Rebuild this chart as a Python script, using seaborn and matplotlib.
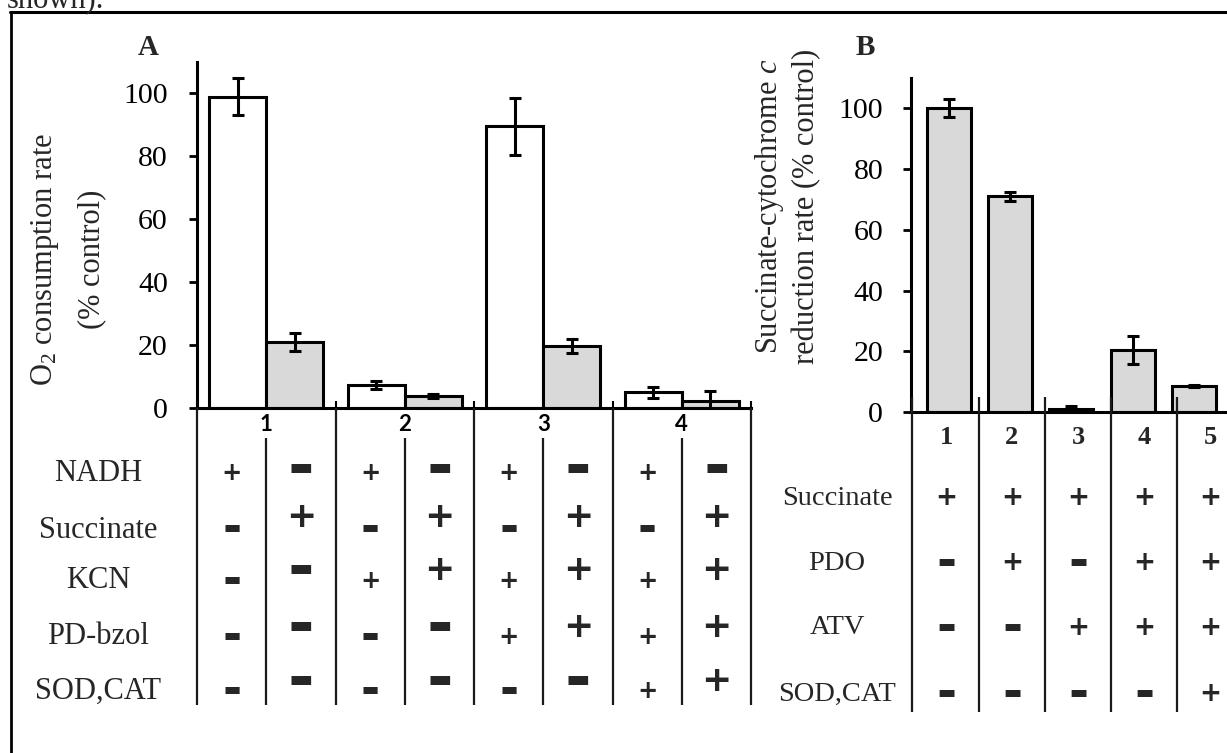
import numpy as np
import pandas as pd
import seaborn as sns
import matplotlib.pyplot as plt

# Panel A data: O2 consumption rate (% control)
groups_a = ['1', '2', '3', '4']
white_a = [99.0, 7.3, 89.5, 5.0]
white_err_a = [5.8, 1.2, 9.2, 1.7]
gray_a = [21.0, 3.8, 19.7, 2.3]
gray_err_a = [2.8, 0.5, 2.1, 3.0]

rows_a = ['NADH', 'Succinate', 'KCN', 'PD-bzol', 'SOD,CAT']
# signs per group, left (white) column and right (gray) column
signs_white_a = [['+', '-', '-', '-', '-'],
                 ['+', '-', '+', '-', '-'],
                 ['+', '-', '+', '+', '-'],
                 ['+', '-', '+', '+', '+']]
signs_gray_a = [['-', '+', '-', '-', '-'],
                ['-', '+', '+', '-', '-'],
                ['-', '+', '+', '+', '-'],
                ['-', '+', '+', '+', '+']]

# Panel B data: succinate-cytochrome c reduction rate (% control)
cats_b = ['1', '2', '3', '4', '5']
vals_b = [100.0, 71.0, 1.0, 20.5, 8.6]
err_b = [3.0, 1.5, 1.0, 4.6, 0.3]
rows_b = ['Succinate', 'PDO', 'ATV', 'SOD,CAT']
signs_b = [['+', '-', '-', '-'],
           ['+', '+', '-', '-'],
           ['+', '-', '+', '-'],
           ['+', '+', '+', '-'],
           ['+', '+', '+', '+']]

sns.set_style('ticks')
plt.rcParams['font.family'] = ['Liberation Serif', 'DejaVu Sans']
plt.rcParams['mathtext.fontset'] = 'custom'
plt.rcParams['mathtext.rm'] = 'Liberation Serif'
plt.rcParams['mathtext.it'] = 'Liberation Serif:italic'
plt.rcParams['axes.edgecolor'] = 'black'
plt.rcParams['xtick.color'] = 'black'
plt.rcParams['ytick.color'] = 'black'

W, H = 1227, 753
fig = plt.figure(figsize=(W / 100, H / 100), dpi=100)


def fbox(x0, y0, x1, y1):
    return [x0 / W, 1 - y1 / H, (x1 - x0) / W, (y1 - y0) / H]


axA = fig.add_axes(fbox(197, 62, 751, 408))
axB = fig.add_axes(fbox(911, 78, 1227, 412))

# ---- panel A bars
df_a = pd.DataFrame({'group': groups_a * 2,
                     'cond': ['white'] * 4 + ['gray'] * 4,
                     'value': white_a + gray_a})
sns.barplot(data=df_a, x='group', y='value', hue='cond',
            palette={'white': 'white', 'gray': '#d9d9d9'}, saturation=1,
            edgecolor='black', linewidth=2.2, width=0.82, errorbar=None,
            legend=False, ax=axA)
for p, e in zip(axA.patches, white_err_a + gray_err_a):
    axA.errorbar(p.get_x() + p.get_width() / 2, p.get_height(), yerr=e,
                 color='black', lw=2.2, capsize=4.5, capthick=2.2)

axA.set_ylim(0, 110)
axA.set_xlim(-0.5, 3.5)
axA.set_yticks(range(0, 101, 20))
axA.set_xticks(np.arange(-0.5, 4, 1))
axA.set_xticklabels([])
axA.set_xticks(range(4), labels=groups_a, minor=True)
axA.tick_params(axis='x', which='major', direction='in', length=5, width=1.5)
axA.tick_params(axis='x', which='minor', length=0, pad=4)
for lbl in axA.get_xticklabels(minor=True):
    lbl.set_fontfamily('Lato')
    lbl.set_fontweight('bold')
    lbl.set_fontsize(16)
axA.tick_params(axis='y', direction='out', length=6, width=2, pad=15, labelsize=21.5)
axA.set_xlabel('')
axA.set_ylabel('')
sns.despine(ax=axA)
for s in ['left', 'bottom']:
    axA.spines[s].set_linewidth(2.2)

# ---- panel B bars
sns.barplot(x=cats_b, y=vals_b, color='#d9d9d9', saturation=1,
            edgecolor='black', linewidth=2.2, width=0.72, errorbar=None, ax=axB)
for p, e in zip(axB.patches, err_b):
    axB.errorbar(p.get_x() + p.get_width() / 2, p.get_height(), yerr=e,
                 color='black', lw=2.2, capsize=4.5, capthick=2.2)
axB.set_ylim(0, 110)
axB.set_xlim(-0.62, 4.54)
axB.set_yticks(range(0, 101, 20))
axB.set_xticks([])
axB.tick_params(axis='y', direction='out', length=6, width=2, pad=14, labelsize=21.5)
sns.despine(ax=axB)
for s in ['left', 'bottom']:
    axB.spines[s].set_linewidth(2.2)

# ---- overlay in pixel coordinates for tables and labels
ov = fig.add_axes([0, 0, 1, 1])
ov.set_xlim(0, W)
ov.set_ylim(H, 0)
ov.axis('off')

# figure frame (left and top edges)
ov.plot([11, 11], [H + 5, 12], color='black', lw=2, clip_on=False)
ov.plot([10, W + 5], [12, 12], color='black', lw=2.2, clip_on=False)
ov.text(7, 7, 'shown).', fontsize=22, ha='left', va='baseline')

ov.text(148, 47, 'A', fontsize=21, fontweight='bold', ha='center', va='center')
ov.text(865, 47, 'B', fontsize=21, fontweight='bold', ha='center', va='center')

ov.text(45, 259, 'O$_2$ consumption rate', fontsize=22, rotation=90, ha='center', va='center')
ov.text(92, 259, '(% control)', fontsize=22, rotation=90, ha='center', va='center')
ov.text(769, 206, 'Succinate-cytochrome $c$', fontsize=22, rotation=90, ha='center', va='center')
ov.text(807, 206, 'reduction rate (% control)', fontsize=22, rotation=90, ha='center', va='center')


def pxA(d):
    return axA.transData.transform((d, 0))[0]


line_kw = dict(color='#1a1a1a', lw=1.6, solid_capstyle='butt')
for d in np.arange(-0.5, 4, 1):
    ov.plot([pxA(d), pxA(d)], [408, 705], **line_kw)
for d in range(4):
    ov.plot([pxA(d), pxA(d)], [438, 705], **line_kw)

row_y_a = [473, 530, 581, 637, 691]
row_y_a_big = [469, 517, 570, 627, 681]
sym = {'family': 'DejaVu Sans', 'weight': 'bold'}
small_size = {'+': 17.5, '-': 33}
big_size = {'+': 26, '-': 46}
for i, lab in enumerate(rows_a):
    ov.text(98, row_y_a[i], lab, fontsize=22, ha='center', va='center')
for g in range(4):
    xl = pxA(g - 0.25)
    xr = pxA(g + 0.25)
    for i in range(5):
        s = signs_white_a[g][i]
        ov.text(xl, row_y_a[i], s, fontsize=small_size[s], ha='center', va='center', **sym)
        s = signs_gray_a[g][i]
        ov.text(xr, row_y_a_big[i], s, fontsize=big_size[s], ha='center', va='center', **sym)

# panel B table
bx_lines = [912, 979, 1045, 1111, 1177]
bx_cols = [946, 1012, 1078, 1144, 1210]
row_y_b = [498, 563, 628, 694]
b_size = {'+': 19, '-': 35}
for x in bx_lines:
    ov.plot([x, x], [397, 712], **line_kw)
for j, c in enumerate(cats_b):
    ov.text(bx_cols[j], 437, c, fontsize=19, fontweight='bold', ha='center', va='center')
    for i in range(4):
        s = signs_b[j][i]
        ov.text(bx_cols[j], row_y_b[i], s, fontsize=b_size[s], ha='center', va='center', **sym)
for i, lab in enumerate(rows_b):
    ov.text(837, row_y_b[i], lab, fontsize=20.5, ha='center', va='center')

fig.savefig('out.png', dpi=100)
